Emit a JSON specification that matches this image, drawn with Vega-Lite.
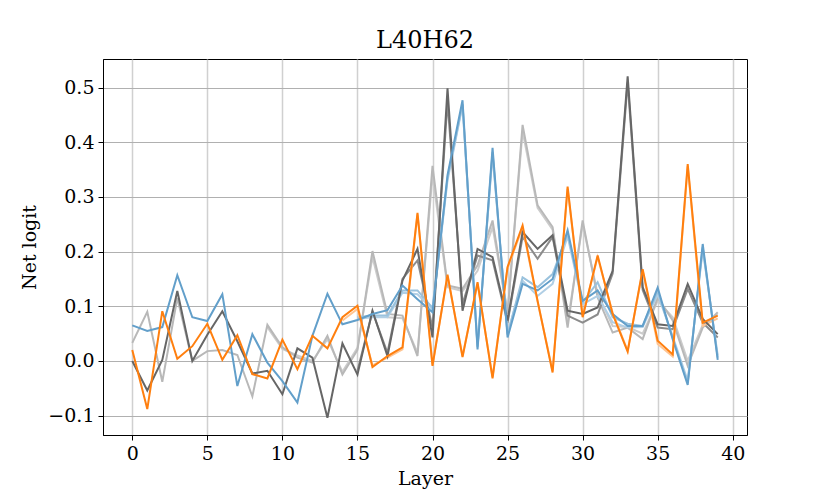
{
  "$schema": "https://vega.github.io/schema/vega-lite/v6.json",
  "width": 644,
  "height": 376,
  "autosize": {"type": "none"},
  "padding": {"left": 103, "top": 59, "right": 83, "bottom": 63},
  "background": "white",
  "title": {"text": "L40H62", "font": "DejaVu Serif", "fontSize": 24, "fontWeight": "normal", "color": "black", "offset": 6},
  "config": {
    "view": {"stroke": "black", "strokeWidth": 1},
    "axis": {
      "labelFont": "DejaVu Serif", "labelFontSize": 19, "labelColor": "black",
      "titleFont": "DejaVu Serif", "titleFontSize": 19, "titleFontWeight": "normal", "titleColor": "black",
      "tickColor": "black", "tickSize": 5, "domainColor": "black", "labelPadding": 4
    }
  },
  "data": {"values": [
    {"series":"light2","layer":9,"value":0.062},{"series":"light2","layer":10,"value":0.022},{"series":"light2","layer":11,"value":0.010},{"series":"light2","layer":12,"value":0.000},{"series":"light2","layer":13,"value":0.040},{"series":"light2","layer":14,"value":-0.020},{"series":"light2","layer":15,"value":0.024},{"series":"light2","layer":16,"value":0.190},{"series":"light2","layer":17,"value":0.080},{"series":"light2","layer":18,"value":0.078},{"series":"light2","layer":19,"value":0.015},{"series":"light2","layer":20,"value":0.340},{"series":"light2","layer":21,"value":0.135},{"series":"light2","layer":22,"value":0.128},{"series":"light2","layer":23,"value":0.165},{"series":"light2","layer":24,"value":0.245},{"series":"light2","layer":25,"value":0.090},{"series":"light2","layer":26,"value":0.420},{"series":"light2","layer":27,"value":0.280},{"series":"light2","layer":28,"value":0.240},{"series":"light2","layer":29,"value":0.070},{"series":"light2","layer":30,"value":0.250},{"series":"light2","layer":31,"value":0.123},{"series":"light2","layer":32,"value":0.064},{"series":"light2","layer":33,"value":0.062},{"series":"light2","layer":34,"value":0.050},{"series":"light2","layer":35,"value":0.110},{"series":"light2","layer":36,"value":0.080},{"series":"light2","layer":37,"value":0.000},{"series":"light2","layer":38,"value":0.066},{"series":"light2","layer":39,"value":0.085},

    {"series":"light","layer":0,"value":0.033},{"series":"light","layer":1,"value":0.090},{"series":"light","layer":2,"value":-0.038},{"series":"light","layer":3,"value":0.115},{"series":"light","layer":4,"value":0.000},{"series":"light","layer":5,"value":0.018},{"series":"light","layer":6,"value":0.020},{"series":"light","layer":7,"value":0.011},{"series":"light","layer":8,"value":-0.065},{"series":"light","layer":9,"value":0.066},{"series":"light","layer":10,"value":0.025},{"series":"light","layer":11,"value":0.006},{"series":"light","layer":12,"value":-0.003},{"series":"light","layer":13,"value":0.046},{"series":"light","layer":14,"value":-0.025},{"series":"light","layer":15,"value":0.020},{"series":"light","layer":16,"value":0.201},{"series":"light","layer":17,"value":0.086},{"series":"light","layer":18,"value":0.083},{"series":"light","layer":19,"value":0.009},{"series":"light","layer":20,"value":0.357},{"series":"light","layer":21,"value":0.138},{"series":"light","layer":22,"value":0.132},{"series":"light","layer":23,"value":0.175},{"series":"light","layer":24,"value":0.257},{"series":"light","layer":25,"value":0.086},{"series":"light","layer":26,"value":0.432},{"series":"light","layer":27,"value":0.285},{"series":"light","layer":28,"value":0.245},{"series":"light","layer":29,"value":0.061},{"series":"light","layer":30,"value":0.257},{"series":"light","layer":31,"value":0.116},{"series":"light","layer":32,"value":0.052},{"series":"light","layer":33,"value":0.061},{"series":"light","layer":34,"value":0.040},{"series":"light","layer":35,"value":0.116},{"series":"light","layer":36,"value":0.074},{"series":"light","layer":37,"value":-0.009},{"series":"light","layer":38,"value":0.061},{"series":"light","layer":39,"value":0.089},

    {"series":"mid","layer":15,"value":-0.018},{"series":"mid","layer":16,"value":0.090},{"series":"mid","layer":17,"value":0.015},{"series":"mid","layer":18,"value":0.150},{"series":"mid","layer":19,"value":0.184},{"series":"mid","layer":20,"value":0.061},{"series":"mid","layer":21,"value":0.475},{"series":"mid","layer":22,"value":0.104},{"series":"mid","layer":23,"value":0.193},{"series":"mid","layer":24,"value":0.184},{"series":"mid","layer":25,"value":0.070},{"series":"mid","layer":26,"value":0.227},{"series":"mid","layer":27,"value":0.187},{"series":"mid","layer":28,"value":0.227},{"series":"mid","layer":29,"value":0.083},{"series":"mid","layer":30,"value":0.070},{"series":"mid","layer":31,"value":0.085},{"series":"mid","layer":32,"value":0.160},{"series":"mid","layer":33,"value":0.510},{"series":"mid","layer":34,"value":0.130},{"series":"mid","layer":35,"value":0.061},{"series":"mid","layer":36,"value":0.058},{"series":"mid","layer":37,"value":0.132},{"series":"mid","layer":38,"value":0.070},{"series":"mid","layer":39,"value":0.043},

    {"series":"blue3","layer":15,"value":0.077},{"series":"blue3","layer":16,"value":0.080},{"series":"blue3","layer":17,"value":0.080},{"series":"blue3","layer":18,"value":0.125},{"series":"blue3","layer":19,"value":0.122},{"series":"blue3","layer":20,"value":0.094},{"series":"blue3","layer":21,"value":0.330},{"series":"blue3","layer":22,"value":0.468},{"series":"blue3","layer":23,"value":0.028},{"series":"blue3","layer":24,"value":0.378},{"series":"blue3","layer":25,"value":0.050},{"series":"blue3","layer":26,"value":0.147},{"series":"blue3","layer":27,"value":0.119},{"series":"blue3","layer":28,"value":0.141},{"series":"blue3","layer":29,"value":0.228},{"series":"blue3","layer":30,"value":0.104},{"series":"blue3","layer":31,"value":0.119},{"series":"blue3","layer":32,"value":0.071},{"series":"blue3","layer":33,"value":0.061},{"series":"blue3","layer":34,"value":0.062},{"series":"blue3","layer":35,"value":0.122},{"series":"blue3","layer":36,"value":0.045},{"series":"blue3","layer":37,"value":-0.036},{"series":"blue3","layer":38,"value":0.204},{"series":"blue3","layer":39,"value":0.010},

    {"series":"blue2","layer":15,"value":0.080},{"series":"blue2","layer":16,"value":0.083},{"series":"blue2","layer":17,"value":0.083},{"series":"blue2","layer":18,"value":0.129},{"series":"blue2","layer":19,"value":0.129},{"series":"blue2","layer":20,"value":0.097},{"series":"blue2","layer":21,"value":0.335},{"series":"blue2","layer":22,"value":0.470},{"series":"blue2","layer":23,"value":0.025},{"series":"blue2","layer":24,"value":0.382},{"series":"blue2","layer":25,"value":0.048},{"series":"blue2","layer":26,"value":0.153},{"series":"blue2","layer":27,"value":0.135},{"series":"blue2","layer":28,"value":0.159},{"series":"blue2","layer":29,"value":0.233},{"series":"blue2","layer":30,"value":0.107},{"series":"blue2","layer":31,"value":0.144},{"series":"blue2","layer":32,"value":0.080},{"series":"blue2","layer":33,"value":0.068},{"series":"blue2","layer":34,"value":0.064},{"series":"blue2","layer":35,"value":0.128},{"series":"blue2","layer":36,"value":0.042},{"series":"blue2","layer":37,"value":-0.040},{"series":"blue2","layer":38,"value":0.208},{"series":"blue2","layer":39,"value":0.006},

    {"series":"orange2","layer":14,"value":0.074},{"series":"orange2","layer":15,"value":0.095},{"series":"orange2","layer":16,"value":-0.008},{"series":"orange2","layer":17,"value":0.006},{"series":"orange2","layer":18,"value":0.021},{"series":"orange2","layer":19,"value":0.268},{"series":"orange2","layer":20,"value":-0.007},{"series":"orange2","layer":21,"value":0.155},{"series":"orange2","layer":22,"value":0.009},{"series":"orange2","layer":23,"value":0.141},{"series":"orange2","layer":24,"value":-0.029},{"series":"orange2","layer":25,"value":0.170},{"series":"orange2","layer":26,"value":0.244},{"series":"orange2","layer":27,"value":0.108},{"series":"orange2","layer":28,"value":-0.018},{"series":"orange2","layer":29,"value":0.315},{"series":"orange2","layer":30,"value":0.082},{"series":"orange2","layer":31,"value":0.190},{"series":"orange2","layer":32,"value":0.088},{"series":"orange2","layer":33,"value":0.019},{"series":"orange2","layer":34,"value":0.165},{"series":"orange2","layer":35,"value":0.031},{"series":"orange2","layer":36,"value":0.008},{"series":"orange2","layer":37,"value":0.356},{"series":"orange2","layer":38,"value":0.064},{"series":"orange2","layer":39,"value":0.078},

    {"series":"dark","layer":0,"value":0.000},{"series":"dark","layer":1,"value":-0.054},{"series":"dark","layer":2,"value":0.002},{"series":"dark","layer":3,"value":0.128},{"series":"dark","layer":4,"value":0.000},{"series":"dark","layer":5,"value":0.048},{"series":"dark","layer":6,"value":0.091},{"series":"dark","layer":7,"value":0.036},{"series":"dark","layer":8,"value":-0.023},{"series":"dark","layer":9,"value":-0.018},{"series":"dark","layer":10,"value":-0.061},{"series":"dark","layer":11,"value":0.023},{"series":"dark","layer":12,"value":0.006},{"series":"dark","layer":13,"value":-0.104},{"series":"dark","layer":14,"value":0.032},{"series":"dark","layer":15,"value":-0.025},{"series":"dark","layer":16,"value":0.092},{"series":"dark","layer":17,"value":0.009},{"series":"dark","layer":18,"value":0.147},{"series":"dark","layer":19,"value":0.205},{"series":"dark","layer":20,"value":0.043},{"series":"dark","layer":21,"value":0.499},{"series":"dark","layer":22,"value":0.092},{"series":"dark","layer":23,"value":0.205},{"series":"dark","layer":24,"value":0.190},{"series":"dark","layer":25,"value":0.074},{"series":"dark","layer":26,"value":0.236},{"series":"dark","layer":27,"value":0.205},{"series":"dark","layer":28,"value":0.230},{"series":"dark","layer":29,"value":0.092},{"series":"dark","layer":30,"value":0.086},{"series":"dark","layer":31,"value":0.098},{"series":"dark","layer":32,"value":0.165},{"series":"dark","layer":33,"value":0.521},{"series":"dark","layer":34,"value":0.135},{"series":"dark","layer":35,"value":0.067},{"series":"dark","layer":36,"value":0.064},{"series":"dark","layer":37,"value":0.141},{"series":"dark","layer":38,"value":0.077},{"series":"dark","layer":39,"value":0.049},

    {"series":"blue","layer":0,"value":0.065},{"series":"blue","layer":1,"value":0.055},{"series":"blue","layer":2,"value":0.062},{"series":"blue","layer":3,"value":0.157},{"series":"blue","layer":4,"value":0.080},{"series":"blue","layer":5,"value":0.073},{"series":"blue","layer":6,"value":0.122},{"series":"blue","layer":7,"value":-0.046},{"series":"blue","layer":8,"value":0.049},{"series":"blue","layer":9,"value":-0.003},{"series":"blue","layer":10,"value":-0.037},{"series":"blue","layer":11,"value":-0.076},{"series":"blue","layer":12,"value":0.046},{"series":"blue","layer":13,"value":0.123},{"series":"blue","layer":14,"value":0.067},{"series":"blue","layer":15,"value":0.075},{"series":"blue","layer":16,"value":0.086},{"series":"blue","layer":17,"value":0.093},{"series":"blue","layer":18,"value":0.138},{"series":"blue","layer":19,"value":0.113},{"series":"blue","layer":20,"value":0.089},{"series":"blue","layer":21,"value":0.340},{"series":"blue","layer":22,"value":0.477},{"series":"blue","layer":23,"value":0.021},{"series":"blue","layer":24,"value":0.390},{"series":"blue","layer":25,"value":0.043},{"series":"blue","layer":26,"value":0.141},{"series":"blue","layer":27,"value":0.129},{"series":"blue","layer":28,"value":0.150},{"series":"blue","layer":29,"value":0.239},{"series":"blue","layer":30,"value":0.110},{"series":"blue","layer":31,"value":0.129},{"series":"blue","layer":32,"value":0.086},{"series":"blue","layer":33,"value":0.064},{"series":"blue","layer":34,"value":0.064},{"series":"blue","layer":35,"value":0.134},{"series":"blue","layer":36,"value":0.040},{"series":"blue","layer":37,"value":-0.044},{"series":"blue","layer":38,"value":0.214},{"series":"blue","layer":39,"value":0.002},

    {"series":"orange","layer":0,"value":0.020},{"series":"orange","layer":1,"value":-0.088},{"series":"orange","layer":2,"value":0.091},{"series":"orange","layer":3,"value":0.004},{"series":"orange","layer":4,"value":0.027},{"series":"orange","layer":5,"value":0.068},{"series":"orange","layer":6,"value":0.002},{"series":"orange","layer":7,"value":0.047},{"series":"orange","layer":8,"value":-0.024},{"series":"orange","layer":9,"value":-0.032},{"series":"orange","layer":10,"value":0.039},{"series":"orange","layer":11,"value":-0.015},{"series":"orange","layer":12,"value":0.046},{"series":"orange","layer":13,"value":0.023},{"series":"orange","layer":14,"value":0.080},{"series":"orange","layer":15,"value":0.101},{"series":"orange","layer":16,"value":-0.011},{"series":"orange","layer":17,"value":0.009},{"series":"orange","layer":18,"value":0.025},{"series":"orange","layer":19,"value":0.271},{"series":"orange","layer":20,"value":-0.009},{"series":"orange","layer":21,"value":0.158},{"series":"orange","layer":22,"value":0.007},{"series":"orange","layer":23,"value":0.144},{"series":"orange","layer":24,"value":-0.032},{"series":"orange","layer":25,"value":0.172},{"series":"orange","layer":26,"value":0.248},{"series":"orange","layer":27,"value":0.110},{"series":"orange","layer":28,"value":-0.021},{"series":"orange","layer":29,"value":0.319},{"series":"orange","layer":30,"value":0.080},{"series":"orange","layer":31,"value":0.193},{"series":"orange","layer":32,"value":0.086},{"series":"orange","layer":33,"value":0.017},{"series":"orange","layer":34,"value":0.168},{"series":"orange","layer":35,"value":0.037},{"series":"orange","layer":36,"value":0.012},{"series":"orange","layer":37,"value":0.360},{"series":"orange","layer":38,"value":0.070},{"series":"orange","layer":39,"value":0.083}
  ]},
  "mark": {"type": "line", "strokeWidth": 2, "clip": true},
  "encoding": {
    "x": {
      "field": "layer", "type": "quantitative",
      "scale": {"domain": [-1.95, 40.95], "nice": false, "zero": false},
      "axis": {"values": [0, 5, 10, 15, 20, 25, 30, 35, 40], "format": "d", "title": "Layer", "titlePadding": 6,
               "gridColor": "#d0d0d0", "gridWidth": 1.5, "labelFlush": false}
    },
    "y": {
      "field": "value", "type": "quantitative",
      "scale": {"domain": [-0.1355, 0.5525], "nice": false, "zero": false},
      "axis": {"values": [-0.1, 0, 0.1, 0.2, 0.3, 0.4, 0.5], "format": ".1f", "title": "Net logit", "titlePadding": 8,
               "gridColor": "#b0b0b0", "gridWidth": 1, "labelFlush": false}
    },
    "color": {
      "field": "series", "type": "nominal", "legend": null,
      "scale": {"domain": ["light2", "light", "mid", "blue3", "blue2", "orange2", "dark", "blue", "orange"],
                "range": ["#cccccc", "#b8b8b8", "#8c8c8c", "#b1cfe5", "#9ac2dd", "#ffc592", "#666666", "#629fca", "#ff7f0e"]}
    }
  }
}
